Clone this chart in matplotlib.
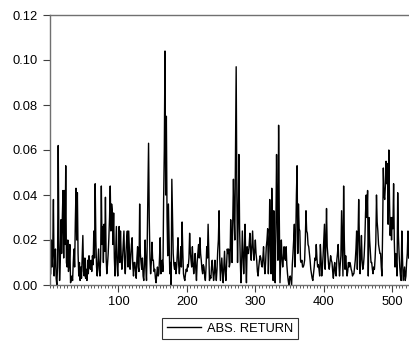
import numpy as np
import matplotlib
matplotlib.use("Agg")
import matplotlib.pyplot as plt
from matplotlib.ticker import MultipleLocator, FixedLocator

plt.rcParams['font.family'] = ['Liberation Sans', 'DejaVu Sans']

abs_return_milli = [
    5, 20, 8, 15, 38, 4, 12, 16, 3, 0,
    8, 62, 20, 2, 10, 29, 14, 30, 42, 12,
    42, 18, 53, 10, 8, 20, 6, 10, 18, 1,
    2, 4, 2, 10, 16, 8, 28, 43, 20, 41,
    14, 4, 10, 2, 8, 3, 12, 22, 6, 4,
    12, 3, 7, 2, 11, 5, 13, 9, 7, 11,
    6, 13, 9, 24, 12, 45, 20, 8, 4, 10,
    16, 7, 4, 12, 44, 18, 26, 10, 27, 15,
    39, 12, 5, 9, 14, 21, 30, 44, 24, 36,
    33, 18, 32, 12, 4, 15, 26, 9, 4, 14,
    26, 10, 24, 13, 7, 12, 18, 24, 10, 5,
    14, 20, 24, 8, 24, 15, 7, 12, 18, 21,
    9, 4, 10, 10, 6, 3, 12, 17, 8, 6,
    36, 14, 10, 7, 12, 4, 2, 10, 20, 8,
    2, 18, 40, 63, 30, 12, 5, 10, 19, 11,
    11, 6, 7, 3, 1, 5, 8, 4, 5, 12,
    21, 5, 10, 11, 6, 38, 60, 104, 40, 75,
    30, 13, 36, 20, 5, 10, 0, 47, 30, 14,
    9, 7, 10, 5, 8, 14, 21, 9, 5, 10,
    17, 8, 28, 15, 5, 3, 2, 5, 7, 6,
    9, 8, 12, 23, 15, 11, 8, 17, 10, 5,
    9, 14, 7, 2, 10, 14, 18, 12, 21, 14,
    11, 7, 5, 9, 8, 4, 2, 8, 17, 12,
    27, 14, 2, 4, 3, 8, 11, 6, 2, 5,
    11, 6, 2, 7, 15, 20, 33, 12, 2, 7,
    12, 6, 1, 8, 15, 6, 2, 9, 16, 14,
    16, 8, 10, 29, 18, 10, 30, 47, 30, 20,
    60, 97, 40, 10, 30, 58, 25, 11, 1, 10,
    24, 15, 5, 14, 27, 12, 1, 17, 14, 14,
    18, 23, 16, 11, 18, 24, 16, 11, 15, 20,
    14, 11, 6, 4, 8, 11, 13, 12, 9, 8,
    12, 17, 9, 5, 10, 17, 20, 25, 5, 15,
    38, 20, 5, 43, 20, 2, 33, 15, 1, 25,
    58, 30, 11, 71, 30, 1, 10, 20, 12, 8,
    12, 17, 12, 11, 17, 9, 5, 2, 0, 3,
    4, 2, 0, 9, 14, 20, 27, 8, 20, 40,
    53, 14, 36, 25, 24, 11, 10, 11, 8, 8,
    9, 11, 20, 33, 24, 23, 18, 17, 14, 11,
    7, 5, 3, 2, 5, 8, 12, 11, 18, 12,
    8, 9, 7, 4, 18, 12, 4, 8, 13, 20,
    27, 7, 18, 34, 17, 13, 9, 7, 10, 13,
    11, 10, 6, 3, 8, 10, 5, 4, 11, 14,
    18, 10, 4, 9, 13, 33, 18, 4, 44, 20,
    7, 13, 8, 4, 6, 10, 8, 10, 9, 7,
    6, 4, 5, 5, 8, 11, 16, 24, 7, 20,
    38, 20, 5, 12, 22, 11, 7, 9, 13, 20,
    32, 40, 30, 42, 4, 30, 20, 15, 10, 10,
    7, 5, 8, 7, 12, 19, 40, 28, 24, 18,
    16, 14, 14, 8, 4, 25, 52, 40, 38, 44,
    55, 45, 54, 27, 60, 38, 22, 30, 20, 30,
    25, 45, 20, 8, 14, 10, 4, 41, 22, 14,
    8, 4, 2, 24, 12, 2, 5, 8, 2, 4,
    10, 14, 24, 12,
]
abs_return = np.array(abs_return_milli) / 1000.0
obs = np.arange(1, len(abs_return) + 1)

y_ticks = [0.00, 0.02, 0.04, 0.06, 0.08, 0.10, 0.12]
x_labels = [100, 200, 300, 400, 500]
series_name = "ABS. RETURN"

W, H = 409, 351
fig = plt.figure(figsize=(W / 100, H / 100), dpi=100)
ax = fig.add_axes([50 / W, 1 - 285 / H, 1 - 50 / W, 270 / H])

line, = ax.plot(obs, abs_return, color='black', lw=1.0, label=series_name)

ax.set_xlim(0, 524.5)
ax.set_ylim(0, 0.12)

spine_col = '#707070'
for s in ['left', 'top', 'bottom']:
    ax.spines[s].set_color(spine_col)
    ax.spines[s].set_linewidth(1.0)
ax.spines['right'].set_visible(False)

ax.yaxis.set_major_locator(FixedLocator(y_ticks))
ax.set_yticklabels([f"{v:.2f}" for v in y_ticks])
ax.tick_params(axis='y', direction='out', length=5, width=0.8, color='#404040',
               pad=4, labelsize=9.3, labelcolor='black', right=False)

ax.xaxis.set_major_locator(FixedLocator(x_labels))
ax.set_xticklabels([str(v) for v in x_labels])
ax.xaxis.set_minor_locator(MultipleLocator(5))
ax.tick_params(axis='x', which='major', direction='out', length=5, width=0.8,
               color='#404040', pad=3, labelsize=9.3, labelcolor='black', top=False)
ax.tick_params(axis='x', which='minor', direction='out', length=2.5, width=0.6,
               color='#404040', top=False)

leg = fig.legend(handles=[line], labels=[series_name], loc='center',
                 bbox_to_anchor=(230 / W, 1 - 328.5 / H), frameon=True,
                 fancybox=False, fontsize=9.3, handlelength=2.6, handletextpad=0.5,
                 borderpad=0.35, borderaxespad=0)
leg.get_frame().set_edgecolor('black')
leg.get_frame().set_linewidth(0.8)

fig.savefig('out.png', dpi=100)
